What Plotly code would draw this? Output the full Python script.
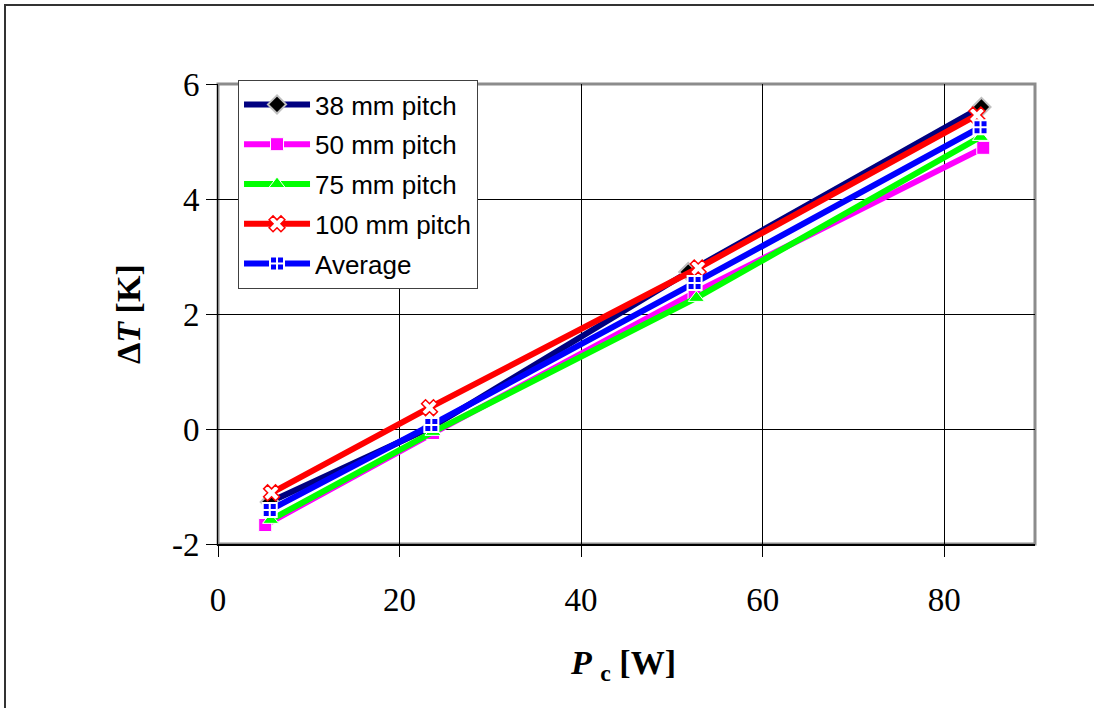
import plotly.graph_objects as go

# Measured temperature difference vs. cooling power for several fin pitches
series_names = ["38 mm pitch", "50 mm pitch", "75 mm pitch", "100 mm pitch", "Average"]

pc_38 = [5.7, 23.5, 51.8, 84.1]
dt_38 = [-1.27, 0.03, 2.73, 5.60]

pc_50 = [5.2, 23.7, 52.5, 84.3]
dt_50 = [-1.67, -0.07, 2.37, 4.89]

pc_75 = [5.8, 23.7, 52.7, 84.0]
dt_75 = [-1.58, -0.05, 2.28, 5.08]

pc_100 = [5.9, 23.3, 52.9, 83.6]
dt_100 = [-1.11, 0.37, 2.80, 5.46]

pc_avg = [5.7, 23.5, 52.5, 84.0]
dt_avg = [-1.41, 0.07, 2.54, 5.25]

x_ticks = [0, 20, 40, 60, 80]
y_ticks = [-2, 0, 2, 4, 6]
y_tick_text = ["-2", "0", "2", "4", "6"]

styles = [
    dict(color="#000080", marker=dict(symbol="diamond", size=14, color="#000000",
                                      line=dict(color="#c0c0c0", width=2))),
    dict(color="#ff00ff", marker=dict(symbol="square", size=13, color="#ff00ff",
                                      line=dict(color="#ffffff", width=1))),
    dict(color="#00ff00", marker=dict(symbol="triangle-up", size=14, color="#00ff00",
                                      line=dict(color="#ffffff", width=1))),
    dict(color="#ff0000", marker=dict(symbol="x", size=14, color="#ffffff",
                                      line=dict(color="#ff0000", width=1.5))),
    dict(color="#0000ff", marker=dict(symbol="square-cross", size=14, color="#0000ff",
                                      line=dict(color="#ffffff", width=2))),
]

xs = [pc_38, pc_50, pc_75, pc_100, pc_avg]
ys = [dt_38, dt_50, dt_75, dt_100, dt_avg]

fig = go.Figure()
for i, (name, x, y, st) in enumerate(zip(series_names, xs, ys, styles)):
    fig.add_trace(go.Scatter(
        x=x, y=y, name=name, mode="lines+markers",
        line=dict(color=st["color"], width=6),
        marker=st["marker"],
        legendgroup=f"g{i}",
    ))

serif = "Liberation Serif, Times New Roman, serif"
sans = "Liberation Sans, Arial, sans-serif"

fig.update_layout(
    width=1094, height=708,
    margin=dict(l=218, r=59, t=84, b=164),
    paper_bgcolor="white", plot_bgcolor="white",
    showlegend=True,
    legend=dict(
        x=0.0245, y=1.0087, xanchor="left", yanchor="top",
        bgcolor="white", bordercolor="#404040", borderwidth=1,
        font=dict(family=sans, size=26, color="black"),
        itemwidth=66, tracegroupgap=3,
    ),
    xaxis=dict(
        range=[0, 90], tickvals=x_ticks, ticks="outside", ticklen=11,
        tickcolor="black", showgrid=True, gridcolor="black", gridwidth=1,
        showline=True, linecolor="black", linewidth=2, zeroline=False,
        ticklabelstandoff=14,
        tickfont=dict(family=serif, size=33, color="black"),
    ),
    yaxis=dict(
        range=[-2, 6], tickvals=y_ticks, ticktext=y_tick_text,
        ticks="outside", ticklen=11,
        tickcolor="black", showgrid=True, gridcolor="black", gridwidth=1,
        showline=True, linecolor="black", linewidth=1, zeroline=False,
        tickfont=dict(family=serif, size=33, color="black"),
    ),
    shapes=[
        # plot-area frame
        dict(type="rect", xref="paper", yref="paper", x0=0, y0=0, x1=1, y1=1,
             line=dict(color="#8c8c8c", width=3), layer="between"),
        # outer chart frame
        dict(type="rect", xref="paper", yref="paper",
             x0=(5 - 218) / 817, y0=(544 - 720) / 460,
             x1=(1110 - 218) / 817, y1=(544 - 5) / 460,
             line=dict(color="#333333", width=2), layer="below"),
    ],
    annotations=[
        dict(text="<b>Δ<i>T</i> [K]</b>", xref="paper", yref="paper",
             x=(128 - 218) / 817, y=0.5, xanchor="center", yanchor="middle",
             textangle=-90, showarrow=False,
             font=dict(family=serif, size=34, color="black")),
        dict(text="<b><i>P</i> <sub>c</sub> [W]</b>", xref="paper", yref="paper",
             x=(623 - 218) / 817, y=(544 - 665) / 460,
             xanchor="center", yanchor="middle", showarrow=False,
             font=dict(family=serif, size=34, color="black")),
    ],
)

fig.write_html("out.html")
